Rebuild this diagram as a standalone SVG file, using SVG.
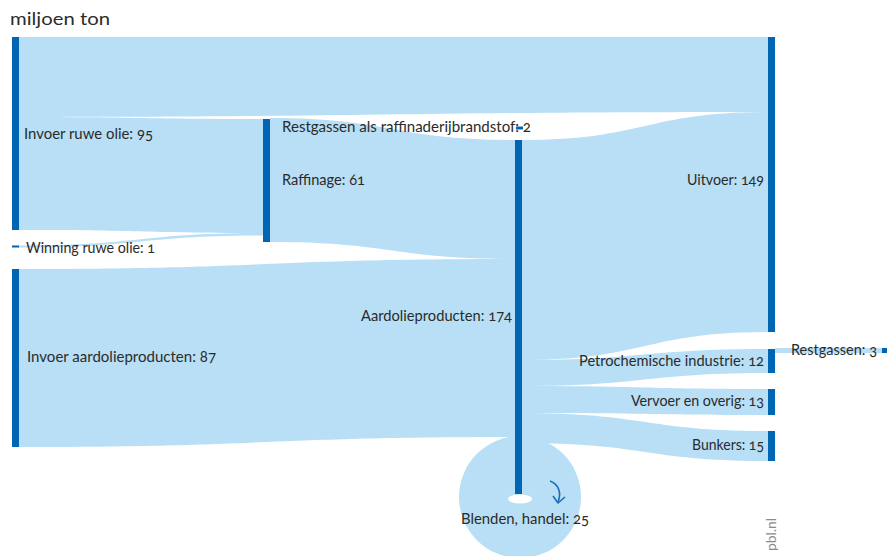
<svg xmlns="http://www.w3.org/2000/svg" width="888" height="556" viewBox="0 0 888 556">
<style>
.flow{fill:#b8dff5}
.bar{fill:#0065b3}
.lbl{font-family:Lato,"Liberation Sans",sans-serif;font-size:15px;fill:#2b2b2b;font-variant-numeric:oldstyle-nums}
</style>
<rect width="888" height="556" fill="#ffffff"/>
<text class="lbl" x="10" y="25" style="font-size:18px" textLength="100" lengthAdjust="spacingAndGlyphs">miljoen ton</text>
<g id="connectors">
<path class="flow" d="M19,37 L768,37 L768,112 C393,112 393,117 19,117 Z"/>
<path class="flow" d="M19,117 C141,117 141,119 263,119 L263,233 C141,233 141,230 19,230 Z"/>
<path class="flow" d="M19,245.5 C141,245.5 141,233 263,233 L263,235.5 C141,235.5 141,247.5 19,247.5 Z"/>
<path class="flow" d="M270,118 C392,118 392,140 515,140 L515,259 C392,259 392,242 270,242 Z"/>
<path class="flow" d="M19,269 C267,269 267,259 515,259 L515,437 C267,437 267,447 19,447 Z"/>
<path class="flow" d="M522,140 C645,140 645,112 768,112 L768,332 C645,332 645,360 522,360 Z"/>
<path class="flow" d="M522,360 C645,360 645,349 768,349 L768,373 C645,373 645,386 522,386 Z"/>
<path class="flow" d="M522,386 C645,386 645,389 768,389 L768,415 C645,415 645,413 522,413 Z"/>
<path class="flow" d="M522,413 C645,413 645,431 768,431 L768,461 C645,461 645,443 522,443 Z"/>
<rect class="flow" x="775" y="348" width="107" height="5"/>
</g>
<g id="node-blenden">
<circle class="flow" cx="520" cy="497" r="61"/>
<ellipse cx="520" cy="499" rx="12" ry="4.5" fill="#ffffff"/>
<path d="M550,481 C558,484 562,492 558,502" fill="none" stroke="#1670bd" stroke-width="1.6"/>
<path d="M553,496 L558,503 L565,497" fill="none" stroke="#1670bd" stroke-width="1.6" stroke-linejoin="round"/>
<text class="lbl" x="461" y="524" textLength="128" lengthAdjust="spacingAndGlyphs">Blenden, handel: 25</text>
</g>
<g id="node-invoer-ruwe-olie">
<rect class="bar" x="12" y="37" width="7" height="193"/>
<text class="lbl" x="24" y="139" textLength="129" lengthAdjust="spacingAndGlyphs">Invoer ruwe olie: 95</text>
</g>
<g id="node-winning">
<rect class="bar" x="12" y="245.5" width="7" height="2"/>
<text class="lbl" x="26" y="253" textLength="129" lengthAdjust="spacingAndGlyphs">Winning ruwe olie: 1</text>
</g>
<g id="node-invoer-aardolieproducten">
<rect class="bar" x="12" y="269" width="7" height="178"/>
<text class="lbl" x="27" y="362" textLength="189" lengthAdjust="spacingAndGlyphs">Invoer aardolieproducten: 87</text>
</g>
<g id="node-raffinage">
<rect class="bar" x="263" y="119" width="7" height="123"/>
<text class="lbl" x="282" y="185" textLength="83" lengthAdjust="spacingAndGlyphs">Raffinage: 61</text>
</g>
<g id="node-restgassen-raffinaderij">
<text class="lbl" x="282" y="132" textLength="249" lengthAdjust="spacingAndGlyphs">Restgassen als raffinaderijbrandstof: 2</text>
<rect class="bar" x="516" y="126.5" width="7" height="3"/>
</g>
<g id="node-aardolieproducten">
<rect class="bar" x="515" y="140" width="7" height="354"/>
<text class="lbl" x="361" y="321" textLength="151" lengthAdjust="spacingAndGlyphs">Aardolieproducten: 174</text>
</g>
<g id="node-uitvoer">
<rect class="bar" x="768" y="37" width="7" height="295"/>
<text class="lbl" x="687" y="185" textLength="77" lengthAdjust="spacingAndGlyphs">Uitvoer: 149</text>
</g>
<g id="node-petrochemie">
<rect class="bar" x="768" y="349" width="7" height="24"/>
<text class="lbl" x="579" y="366" textLength="185" lengthAdjust="spacingAndGlyphs">Petrochemische industrie: 12</text>
</g>
<g id="node-vervoer">
<rect class="bar" x="768" y="389" width="7" height="26"/>
<text class="lbl" x="631" y="406" textLength="133" lengthAdjust="spacingAndGlyphs">Vervoer en overig: 13</text>
</g>
<g id="node-bunkers">
<rect class="bar" x="768" y="431" width="7" height="30"/>
<text class="lbl" x="692" y="450" textLength="72" lengthAdjust="spacingAndGlyphs">Bunkers: 15</text>
</g>
<g id="node-restgassen">
<rect class="bar" x="882" y="348" width="5" height="5"/>
<text class="lbl" x="791" y="355" textLength="86" lengthAdjust="spacingAndGlyphs">Restgassen: 3</text>
</g>
<text class="lbl" transform="translate(776,551) rotate(-90)" style="font-size:14px;fill:#8a8a8a" textLength="33" lengthAdjust="spacingAndGlyphs">pbl.nl</text>
</svg>
